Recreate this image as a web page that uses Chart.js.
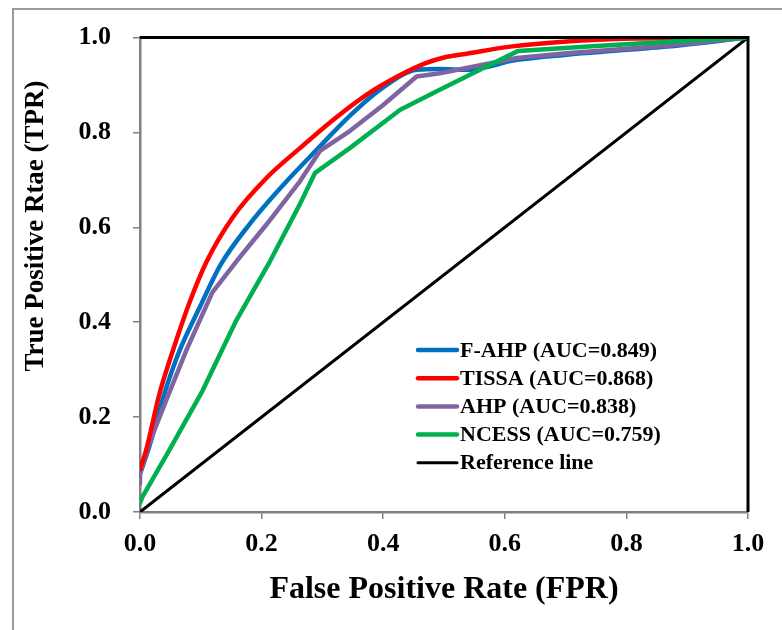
<!DOCTYPE html>
<html>
<head>
<meta charset="utf-8">
<script src="https://cdn.jsdelivr.net/npm/chart.js@4"></script>
<style>
  html, body { margin: 0; padding: 0; background: #fff; }
  #wrap { width: 782px; height: 630px; }
</style>
</head>
<body>
<div id="wrap"><canvas id="chart" width="782" height="630"></canvas></div>
<script>
const labels = ['F-AHP (AUC=0.849)', 'TISSA (AUC=0.868)', 'AHP (AUC=0.838)', 'NCESS (AUC=0.759)', 'Reference line'];
const colors = ['#0070C0', '#FF0000', '#8064A2', '#00B050', '#000000'];
const xTicks = [0, 0.2, 0.4, 0.6, 0.8, 1.0];

const fahpFpr = [0, 0.015, 0.04, 0.065, 0.098, 0.132, 0.181, 0.236, 0.291, 0.345, 0.4, 0.455, 0.493, 0.537, 0.62, 0.702, 0.866, 1];
const fahpTpr = [0.08, 0.137, 0.249, 0.34, 0.431, 0.52, 0.608, 0.69, 0.764, 0.835, 0.895, 0.932, 0.934, 0.932, 0.953, 0.964, 0.981, 1];

const tissaFpr = [0, 0.01, 0.032, 0.054, 0.081, 0.11, 0.153, 0.208, 0.263, 0.318, 0.373, 0.428, 0.47, 0.5, 0.537, 0.609, 0.702, 0.81, 1];
const tissaTpr = [0.09, 0.13, 0.249, 0.34, 0.44, 0.529, 0.622, 0.704, 0.767, 0.827, 0.88, 0.921, 0.946, 0.958, 0.966, 0.981, 0.992, 0.998, 1];

const ahpFpr = [0, 0, 0.015, 0.043, 0.076, 0.119, 0.159, 0.208, 0.263, 0.296, 0.345, 0.4, 0.455, 0.493, 0.537, 0.62, 0.702, 0.866, 1];
const ahpTpr = [0.06, 0.082, 0.144, 0.235, 0.34, 0.463, 0.529, 0.606, 0.697, 0.761, 0.803, 0.858, 0.918, 0.925, 0.936, 0.957, 0.967, 0.983, 1];

const ncessFpr = [0, 0.004, 0.048, 0.103, 0.158, 0.214, 0.263, 0.288, 0.345, 0.428, 0.493, 0.565, 0.622, 0.757, 0.921, 1];
const ncessTpr = [0.019, 0.032, 0.13, 0.256, 0.403, 0.529, 0.649, 0.715, 0.767, 0.848, 0.89, 0.936, 0.972, 0.983, 0.995, 1];

const refFpr = [0, 1];
const refTpr = [0, 1];

const pts = (xs, ys) => xs.map((x, i) => ({ x, y: ys[i] }));
const FONT = '"Liberation Serif", "Times New Roman", serif';

const line = (i, d, width, order, smooth) => ({
  label: labels[i], data: d, borderColor: colors[i], backgroundColor: colors[i],
  borderWidth: width, showLine: true, pointRadius: 0, order,
  cubicInterpolationMode: smooth ? 'monotone' : 'default', tension: 0,
  borderCapStyle: 'round', borderJoinStyle: 'round'
});

// frame, black top/right border, titles and the legend box
const extras = {
  id: 'extras',
  beforeDraw(c) {
    const g = c.ctx;
    g.save();
    g.strokeStyle = '#9a9a9a'; g.lineWidth = 2;
    g.beginPath(); g.moveTo(13, 630); g.lineTo(13, 9); g.lineTo(782, 9); g.stroke();
    g.restore();
  },
  afterDraw(c) {
    const g = c.ctx, a = c.chartArea;
    g.save();
    g.strokeStyle = '#000'; g.lineWidth = 3;
    g.beginPath(); g.moveTo(a.left, a.top); g.lineTo(a.right, a.top); g.lineTo(a.right, a.bottom); g.stroke();

    g.fillStyle = '#000';
    g.font = 'bold 32px ' + FONT;
    g.textAlign = 'center'; g.textBaseline = 'middle';
    g.fillText('False Positive Rate (FPR)', (a.left + a.right) / 2, 590);
    g.translate(36, 226); g.rotate(-Math.PI / 2);
    g.font = 'bold 27px ' + FONT;
    g.fillText('True Positive Rtae (TPR)', 0, 0);
    g.restore();

    g.save();
    g.font = 'bold 22px ' + FONT;
    g.textAlign = 'left'; g.textBaseline = 'middle';
    c.data.datasets.forEach(ds => {
      const i = labels.indexOf(ds.label);
      const y = 350 + i * 28.2;
      g.strokeStyle = ds.borderColor; g.lineWidth = i === 4 ? 3 : 4.5; g.lineCap = 'round';
      g.beginPath(); g.moveTo(418, y); g.lineTo(457, y); g.stroke();
      g.fillStyle = '#000';
      g.fillText(ds.label, 460, y + 1);
    });
    g.restore();
  }
};

new Chart(document.getElementById('chart'), {
  type: 'scatter',
  data: { datasets: [
    line(4, pts(refFpr, refTpr), 3, 5, false),
    line(0, pts(fahpFpr, fahpTpr), 4.5, 3, true),
    line(2, pts(ahpFpr, ahpTpr), 4.5, 2, false),
    line(1, pts(tissaFpr, tissaTpr), 4.5, 1, true),
    line(3, pts(ncessFpr, ncessTpr), 4.5, 0, false)
  ]},
  options: {
    responsive: false, animation: false,
    layout: { padding: { top: 36, right: 34, left: 0, bottom: 0 } },
    plugins: { legend: { display: false }, tooltip: { enabled: false } },
    scales: {
      x: {
        type: 'linear', min: 0, max: 1,
        afterBuildTicks: s => { s.ticks = xTicks.map(v => ({ value: v })); },
        afterFit: s => { s.height = 118; },
        grid: { drawOnChartArea: false, tickLength: 7, color: '#808080', lineWidth: 1.5 },
        border: { color: '#808080', width: 2.5 },
        ticks: { padding: 10, color: '#000', font: { family: FONT, size: 26, weight: 'bold' }, callback: v => v.toFixed(1) }
      },
      y: {
        type: 'linear', min: 0, max: 1,
        afterBuildTicks: s => { s.ticks = xTicks.map(v => ({ value: v })); },
        afterFit: s => { s.width = 140; },
        grid: { drawOnChartArea: false, tickLength: 7, color: '#808080', lineWidth: 1.5 },
        border: { color: '#808080', width: 2.5 },
        ticks: { padding: 22, color: '#000', font: { family: FONT, size: 26, weight: 'bold' }, callback: v => v.toFixed(1) }
      }
    }
  },
  plugins: [extras]
});
</script>
</body>
</html>
